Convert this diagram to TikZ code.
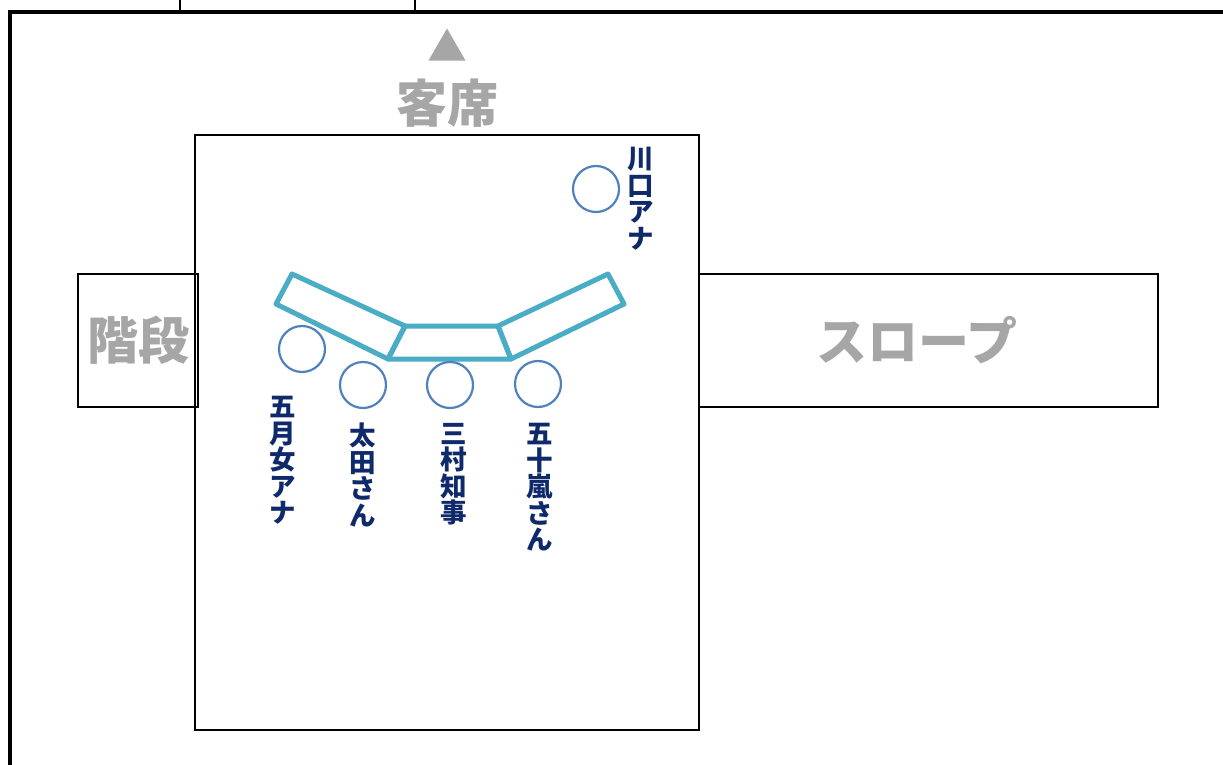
\documentclass[tikz,border=0pt]{standalone}
\usepackage{fontspec}
\usetikzlibrary{shapes.geometric}
\newfontfamily\jpb{Noto Sans CJK JP}
\definecolor{teal1}{HTML}{4BACC6}
\definecolor{blue1}{HTML}{4F81BD}
\definecolor{navy1}{HTML}{0F2A6B}
\definecolor{gray1}{HTML}{A6A6A6}
\begin{document}
\begin{tikzpicture}[x=1pt,y=-1pt,
  frame/.style={draw=black,line width=2pt},
  wall/.style={draw=black,line width=4pt},
  tablepart/.style={draw=teal1,line width=5pt,line join=round},
  seat/.style={circle,draw=blue1,line width=2.2pt,minimum size=46pt,inner sep=0pt},
  vname/.style={text=navy1,font=\jpb\bfseries\fontsize{26.5}{26.5}\selectfont,align=center,inner sep=0pt,anchor=north},
  biglabel/.style={text=gray1,font=\jpb\bfseries\fontsize{51}{54}\selectfont,inner sep=0pt}]
\useasboundingbox (0,0) rectangle (1223,765);
\fill[white] (0,0) rectangle (1223,765);
% outer walls
\draw[frame,line width=1.5pt] (180,0) -- (180,12);
\draw[frame,line width=1.5pt] (415,0) -- (415,12);
\draw[wall] (10,767) -- (10,12) -- (1225,12);
% audience
\node[fill=gray1,regular polygon,regular polygon sides=3,inner sep=0pt,minimum size=43pt] (tri) at (447,50) {};
\node[biglabel] (kyaku) at (447,103) {客席};
% stage
\draw[frame] (195,135) rectangle (699,730);
\node[draw=black,line width=2pt,minimum width=120pt,minimum height=133pt,inner sep=0pt] (stairs) at (138,340.5) {};
\node[biglabel] at (stairs.center) {階段};
\node[draw=black,line width=2pt,minimum width=459pt,minimum height=133pt,inner sep=0pt] (slope) at (928.5,340.5) {};
\node[biglabel] at (917,340) {スロープ};
% table
\draw[tablepart] (292,274) -- (276,304) -- (388,359) -- (405,326) -- cycle;
\draw[tablepart] (405,326) -- (498,326) -- (511,359) -- (388,359) -- cycle;
\draw[tablepart] (608,274) -- (624,304) -- (511,359) -- (498,326) -- cycle;
% seats
\node[seat] (s0) at (596,189) {};
\node[seat] (s1) at (302,349) {};
\node[seat] (s2) at (363,385) {};
\node[seat] (s3) at (450,385) {};
\node[seat] (s4) at (538,384) {};
% names
\node[vname] (n0) at (641,147) {川\\口\\ア\\ナ};
\node[vname] (n1) at (283,396) {五\\月\\女\\ア\\ナ};
\node[vname] (n2) at (363,423) {太\\田\\さ\\ん};
\node[vname] (n3) at (454,423) {三\\村\\知\\事};
\node[vname] (n4) at (540,423) {五\\十\\嵐\\さ\\ん};
\end{tikzpicture}
\end{document}
